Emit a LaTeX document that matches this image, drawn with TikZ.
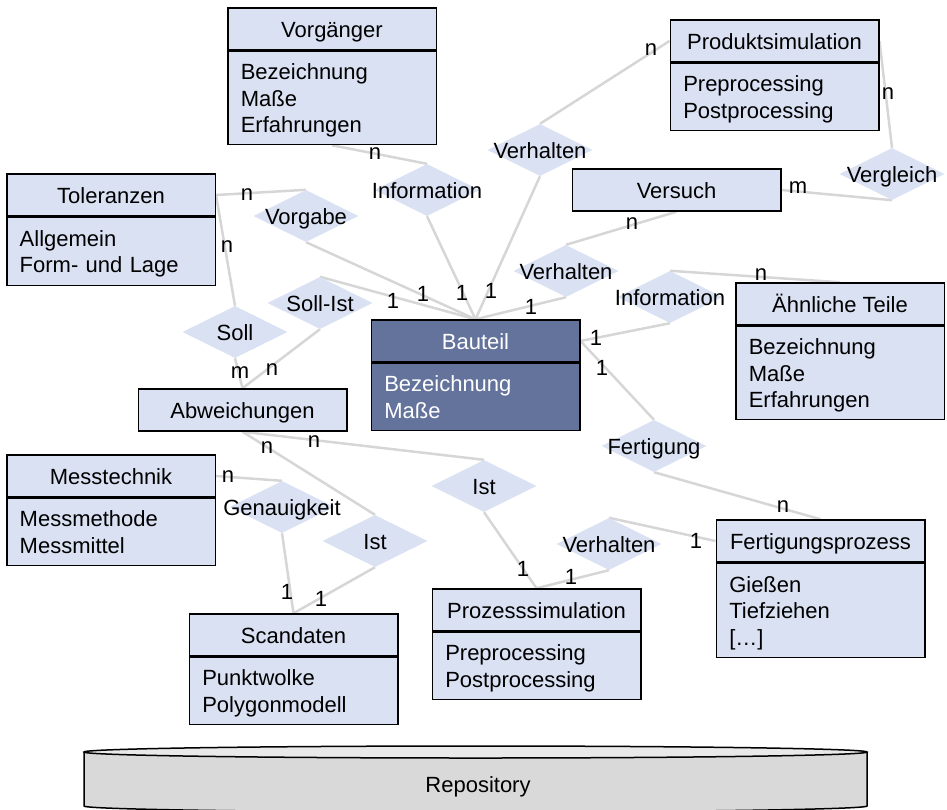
\documentclass[tikz,border=0pt]{standalone}
\usepackage{fontspec}
\setmainfont{Liberation Sans}
\usetikzlibrary{shapes.geometric}

\definecolor{entfill}{HTML}{DAE1F3}
\definecolor{corefill}{HTML}{63739B}
\definecolor{relfill}{HTML}{DAE1F3}
\definecolor{linkgray}{HTML}{D6D6D6}
\definecolor{repobody}{HTML}{D9D9D9}
\definecolor{repotop}{HTML}{E9E9E9}

\pgfdeclarelayer{background}
\pgfsetlayers{background,main}

% relationship text: zero-sized box so the diamond keeps its fixed size
\newcommand{\reltext}[1]{\raisebox{-8pt}[0pt][0pt]{\makebox[0pt]{#1}}}

\begin{document}
\begin{tikzpicture}[x=1pt,y=-1pt,
  font=\fontsize{22pt}{26.5pt}\selectfont,
  head/.style={draw=black, line width=1.5pt, fill=entfill, inner sep=0pt,
    minimum width=208.5pt, minimum height=42pt, text height=16pt, text depth=0pt},
  bodytwo/.style={draw=black, line width=1.5pt, fill=entfill, inner ysep=0pt,
    inner xsep=13pt, minimum width=208.5pt, text width=182.5pt, align=left,
    text height=16pt, text depth=26.5pt, anchor=north},
  bodythree/.style={bodytwo, text depth=53pt},
  core/.style={fill=corefill, text=white},
  rel/.style={shape=diamond, fill=relfill, inner sep=0pt,
    minimum width=105pt, minimum height=52pt},
  link/.style={draw=linkgray, line width=2.5pt},
  card/.style={inner sep=0pt},
]
\useasboundingbox (0,0) rectangle (947,809);

% ---- entities ----
\node[head] (vorg) at (332,29) {Vorgänger};
\node[bodythree, minimum height=93pt] (vorgB) at (vorg.south) {Bezeichnung\\Maße\\Erfahrungen};

\node[head] (tol) at (111,195) {Toleranzen};
\node[bodytwo, minimum height=68pt] (tolB) at (tol.south) {Allgemein\\Form- und Lage};

\node[head] (prod) at (774.5,41) {Produktsimulation};
\node[bodytwo, minimum height=67pt] (prodB) at (prod.south) {Preprocessing\\Postprocessing};

\node[head] (vers) at (676.5,190) {Versuch};

\node[head] (aehn) at (840,304) {Ähnliche Teile};
\node[bodythree, minimum height=93pt] (aehnB) at (aehn.south) {Bezeichnung\\Maße\\Erfahrungen};

\node[head, core] (bau) at (475.5,341) {Bauteil};
\node[bodytwo, core, minimum height=67pt] (bauB) at (bau.south) {Bezeichnung\\Maße};

\node[head] (abw) at (242.5,410) {Abweichungen};

\node[head] (mess) at (111,476) {Messtechnik};
\node[bodytwo, minimum height=67pt] (messB) at (mess.south) {Messmethode\\Messmittel};

\node[head] (scan) at (293.5,635) {Scandaten};
\node[bodytwo, minimum height=67pt] (scanB) at (scan.south) {Punktwolke\\Polygonmodell};

\node[head] (proz) at (536.5,610) {Prozesssimulation};
\node[bodytwo, minimum height=67pt] (prozB) at (proz.south) {Preprocessing\\Postprocessing};

\node[head] (fert) at (820.5,541) {Fertigungsprozess};
\node[bodythree, minimum height=94pt] (fertB) at (fert.south) {Gießen\\Tiefziehen\\\relax[…]};

% ---- relationships ----
\node[rel] (info1)  at (427,190) {\reltext{Information}};
\node[rel] (vorgabe) at (306,216) {\reltext{Vorgabe}};
\node[rel] (sollist) at (320,303) {\reltext{Soll-Ist}};
\node[rel] (soll)   at (235,332) {\reltext{Soll}};
\node[rel] (verh1)  at (540,150) {\reltext{Verhalten}};
\node[rel] (vergl)  at (892,174) {\reltext{Vergleich}};
\node[rel] (verh2)  at (566,271) {\reltext{Verhalten}};
\node[rel] (info2)  at (670,297) {\reltext{Information}};
\node[rel] (fertg)  at (654,446) {\reltext{Fertigung}};
\node[rel] (ist1)   at (484,486) {\reltext{Ist}};
\node[rel] (verh3)  at (609,544) {\reltext{Verhalten}};
\node[rel] (genau)  at (282,507) {\reltext{Genauigkeit}};
\node[rel] (ist2)   at (375,541) {\reltext{Ist}};

% ---- connectors ----
\begin{pgfonlayer}{background}
\draw[link] (vorgB.south) -- (info1.north);
\draw[link] (info1.south) -- (bau.north);
\draw[link] (tol.east) -- (vorgabe.north);
\draw[link] (tol.east) -- (soll.north);
\draw[link] (vorgabe.south) -- (bau.north);
\draw[link] (sollist.north) -- (bau.north);
\draw[link] (sollist.south) -- (abw.north);
\draw[link] (soll.south) -- (abw.north);
\draw[link] (verh1.north) -- (prod.west);
\draw[link] (verh1.south) -- (bau.north);
\draw[link] (prod.east) -- (vergl.north);
\draw[link] (vergl.south) -- (vers.east);
\draw[link] (vers.south) -- (verh2.north);
\draw[link] (verh2.south) -- (bau.north);
\draw[link] (info2.north) -- (aehn.north);
\draw[link] (info2.south) -- (bau.east);
\draw[link] (bau.east) -- (fertg.north);
\draw[link] (fertg.south) -- (fert.north);
\draw[link] (fert.west) -- (verh3.north);
\draw[link] (verh3.south) -- (proz.north);
\draw[link] (ist1.south) -- (proz.north);
\draw[link] (abw.south) -- (ist1.north);
\draw[link] (abw.south) -- (ist2.north);
\draw[link] (ist2.south) -- (scan.north);
\draw[link] (genau.south) -- (scan.north);
\draw[link] (mess.east) -- (genau.north);
\end{pgfonlayer}

% ---- cardinalities ----
\node[card] (k1)  at (375,154) {n};
\node[card] (k2)  at (393,301) {1};
\node[card] (k3)  at (423,294) {1};
\node[card] (k4)  at (462,293) {1};
\node[card] (k5)  at (491,291) {1};
\node[card] (k6)  at (531,307) {1};
\node[card] (k7)  at (247,195) {n};
\node[card] (k8)  at (227,247) {n};
\node[card] (k9)  at (240,373) {m};
\node[card] (k10) at (272,370) {n};
\node[card] (k11) at (651,50) {n};
\node[card] (k12) at (888,94) {n};
\node[card] (k13) at (798,188) {m};
\node[card] (k14) at (632,224) {n};
\node[card] (k15) at (761,275) {n};
\node[card] (k16) at (596,338) {1};
\node[card] (k17) at (602,368) {1};
\node[card] (k18) at (783,507) {n};
\node[card] (k19) at (696,541) {1};
\node[card] (k20) at (571,577) {1};
\node[card] (k21) at (523,569) {1};
\node[card] (k22) at (314,442) {n};
\node[card] (k23) at (267,448) {n};
\node[card] (k24) at (321,599) {1};
\node[card] (k25) at (287,592) {1};
\node[card] (k26) at (228,477) {n};

% ---- repository cylinder ----
\fill[repobody] (84,752) rectangle (867,806);
\fill[repobody] (475.5,806) ellipse [x radius=391.5pt, y radius=6pt];
\draw[line width=1.5pt] (84,752) -- (84,806)
  arc[start angle=180, end angle=360, x radius=391.5pt, y radius=6pt] -- (867,752);
\filldraw[fill=repotop, line width=1.5pt] (475.5,752) ellipse [x radius=391.5pt, y radius=6pt];
\node[text height=16pt, text depth=0pt] (repo) at (478,784) {Repository};
\end{tikzpicture}
\end{document}
